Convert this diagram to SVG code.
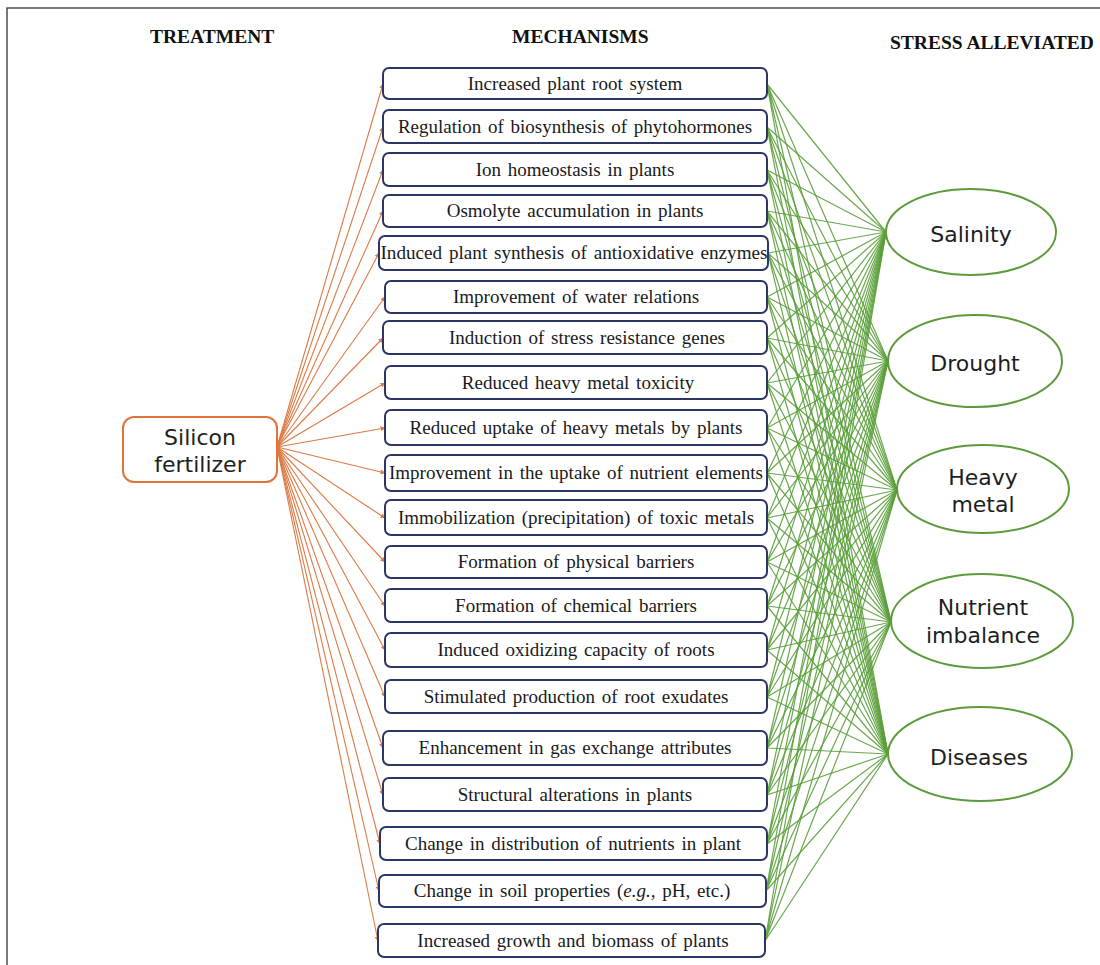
<svg xmlns="http://www.w3.org/2000/svg" width="1100" height="965" viewBox="0 0 1100 965">
<style>
.hdr{font-family:"Liberation Serif","Times New Roman",serif;font-weight:bold;font-size:19.5px;fill:#111}
.mb{fill:#fff;stroke:#2b3566;stroke-width:2}
.mt{font-family:"Liberation Serif","Times New Roman",serif;font-size:19px;fill:#1a1a1a;text-anchor:middle;word-spacing:2px}
.st{font-family:"DejaVu Sans","Verdana",sans-serif;font-size:22px;fill:#1e1e1e;text-anchor:middle}
.el{fill:#fff;stroke:#5c9a3c;stroke-width:2}
.g{fill:none;stroke:#5a9e3a;stroke-width:1.2;opacity:0.9}
.o{fill:none;stroke:#dd7a45;stroke-width:1.1;marker-end:url(#ah)}
</style>
<defs>
<marker id="ah" viewBox="0 0 10 10" refX="9" refY="5" markerWidth="5" markerHeight="5" markerUnits="userSpaceOnUse" orient="auto">
<path d="M0,0 L10,5 L0,10 z" fill="#dd7a45"/>
</marker>
</defs>
<rect x="0" y="0" width="1100" height="965" fill="#fff"/>
<rect x="7" y="8" width="1110" height="1000" fill="none" stroke="#333" stroke-width="1.3"/>
<text class="hdr" x="150" y="43">TREATMENT</text>
<text class="hdr" x="512" y="43">MECHANISMS</text>
<text class="hdr" x="890" y="49">STRESS ALLEVIATED</text>

<g id="connectors">
<g id="green">
<path class="g" d="M767 84L886 232M767 84L888 361M767 84L897 490M767 84L891 622M767 84L888 754"/>
<path class="g" d="M767 127L886 232M767 127L888 361M767 127L897 490M767 127L891 622M767 127L888 754"/>
<path class="g" d="M767 170L886 232M767 170L888 361M767 170L897 490M767 170L891 622M767 170L888 754"/>
<path class="g" d="M767 211L886 232M767 211L888 361M767 211L897 490M767 211L891 622M767 211L888 754"/>
<path class="g" d="M768 253L886 232M768 253L888 361M768 253L897 490M768 253L891 622M768 253L888 754"/>
<path class="g" d="M767 297L886 232M767 297L888 361M767 297L897 490M767 297L891 622M767 297L888 754"/>
<path class="g" d="M767 338L886 232M767 338L888 361M767 338L897 490M767 338L891 622M767 338L888 754"/>
<path class="g" d="M767 383L886 232M767 383L888 361M767 383L897 490M767 383L891 622M767 383L888 754"/>
<path class="g" d="M767 428L886 232M767 428L888 361M767 428L897 490M767 428L891 622M767 428L888 754"/>
<path class="g" d="M767 473L886 232M767 473L888 361M767 473L897 490M767 473L891 622M767 473L888 754"/>
<path class="g" d="M767 518L886 232M767 518L888 361M767 518L897 490M767 518L891 622M767 518L888 754"/>
<path class="g" d="M767 562L886 232M767 562L888 361M767 562L897 490M767 562L891 622M767 562L888 754"/>
<path class="g" d="M767 606L886 232M767 606L888 361M767 606L897 490M767 606L891 622M767 606L888 754"/>
<path class="g" d="M767 650L886 232M767 650L888 361M767 650L897 490M767 650L891 622M767 650L888 754"/>
<path class="g" d="M767 697L886 232M767 697L888 361M767 697L897 490M767 697L891 622M767 697L888 754"/>
<path class="g" d="M767 748L886 232M767 748L888 361M767 748L897 490M767 748L891 622M767 748L888 754"/>
<path class="g" d="M767 795L886 232M767 795L888 361M767 795L897 490M767 795L891 622M767 795L888 754"/>
<path class="g" d="M767 844L886 232M767 844L888 361M767 844L897 490M767 844L891 622M767 844L888 754"/>
<path class="g" d="M766 891L886 232M766 891L888 361M766 891L897 490M766 891L891 622M766 891L888 754"/>
<path class="g" d="M765 941L886 232M765 941L888 361M765 941L897 490M765 941L891 622M765 941L888 754"/>
</g>
<g id="orange">
<line class="o" x1="277" y1="447" x2="383" y2="84"/>
<line class="o" x1="277" y1="447" x2="383" y2="127"/>
<line class="o" x1="277" y1="447" x2="383" y2="170"/>
<line class="o" x1="277" y1="447" x2="383" y2="211"/>
<line class="o" x1="277" y1="447" x2="379" y2="253"/>
<line class="o" x1="277" y1="447" x2="385" y2="297"/>
<line class="o" x1="277" y1="447" x2="383" y2="338"/>
<line class="o" x1="277" y1="447" x2="385" y2="383"/>
<line class="o" x1="277" y1="447" x2="385" y2="428"/>
<line class="o" x1="277" y1="447" x2="385" y2="473"/>
<line class="o" x1="277" y1="447" x2="385" y2="518"/>
<line class="o" x1="277" y1="447" x2="385" y2="562"/>
<line class="o" x1="277" y1="447" x2="385" y2="606"/>
<line class="o" x1="277" y1="447" x2="385" y2="650"/>
<line class="o" x1="277" y1="447" x2="385" y2="697"/>
<line class="o" x1="277" y1="447" x2="383" y2="748"/>
<line class="o" x1="277" y1="447" x2="383" y2="795"/>
<line class="o" x1="277" y1="447" x2="380" y2="844"/>
<line class="o" x1="277" y1="447" x2="379" y2="891"/>
<line class="o" x1="277" y1="447" x2="378" y2="941"/>
</g>
</g>

<g id="silicon">
<rect x="123" y="417" width="154" height="65" rx="11" fill="#fff" stroke="#e0733a" stroke-width="2"/>
<text class="st" x="200" y="445">Silicon</text>
<text class="st" x="200" y="472">fertilizer</text>
</g>

<g id="m1"><rect class="mb" x="383" y="68" width="384" height="31" rx="6"/><text class="mt" x="575" y="90">Increased plant root system</text></g>
<g id="m2"><rect class="mb" x="383" y="110" width="384" height="33" rx="6"/><text class="mt" x="575" y="133">Regulation of biosynthesis of phytohormones</text></g>
<g id="m3"><rect class="mb" x="383" y="153" width="384" height="33" rx="6"/><text class="mt" x="575" y="176">Ion homeostasis in plants</text></g>
<g id="m4"><rect class="mb" x="383" y="195" width="384" height="32" rx="6"/><text class="mt" x="575" y="217">Osmolyte accumulation in plants</text></g>
<g id="m5"><rect class="mb" x="379" y="236" width="389" height="34" rx="6"/><text class="mt" x="574" y="259" textLength="387" lengthAdjust="spacingAndGlyphs">Induced plant synthesis of antioxidative enzymes</text></g>
<g id="m6"><rect class="mb" x="385" y="281" width="382" height="32" rx="6"/><text class="mt" x="576" y="303">Improvement of water relations</text></g>
<g id="m7"><rect class="mb" x="383" y="321" width="384" height="33" rx="6"/><text class="mt" x="587" y="344">Induction of stress resistance genes</text></g>
<g id="m8"><rect class="mb" x="385" y="366" width="382" height="33" rx="6"/><text class="mt" x="578" y="389">Reduced heavy metal toxicity</text></g>
<g id="m9"><rect class="mb" x="385" y="410" width="382" height="35" rx="6"/><text class="mt" x="576" y="434">Reduced uptake of heavy metals by plants</text></g>
<g id="m10"><rect class="mb" x="385" y="455" width="382" height="36" rx="6"/><text class="mt" x="576" y="479">Improvement in the uptake of nutrient elements</text></g>
<g id="m11"><rect class="mb" x="385" y="500" width="382" height="35" rx="6"/><text class="mt" x="576" y="524">Immobilization (precipitation) of toxic metals</text></g>
<g id="m12"><rect class="mb" x="385" y="546" width="382" height="32" rx="6"/><text class="mt" x="576" y="568">Formation of physical barriers</text></g>
<g id="m13"><rect class="mb" x="385" y="589" width="382" height="33" rx="6"/><text class="mt" x="576" y="612">Formation of chemical barriers</text></g>
<g id="m14"><rect class="mb" x="385" y="633" width="382" height="34" rx="6"/><text class="mt" x="576" y="656">Induced oxidizing capacity of roots</text></g>
<g id="m15"><rect class="mb" x="385" y="680" width="382" height="33" rx="6"/><text class="mt" x="576" y="703">Stimulated production of root exudates</text></g>
<g id="m16"><rect class="mb" x="383" y="731" width="384" height="34" rx="6"/><text class="mt" x="575" y="754">Enhancement in gas exchange attributes</text></g>
<g id="m17"><rect class="mb" x="383" y="778" width="384" height="33" rx="6"/><text class="mt" x="575" y="801">Structural alterations in plants</text></g>
<g id="m18"><rect class="mb" x="380" y="827" width="387" height="33" rx="6"/><text class="mt" x="573" y="850">Change in distribution of nutrients in plant</text></g>
<g id="m19"><rect class="mb" x="379" y="875" width="387" height="32" rx="6"/><text class="mt" x="572" y="897">Change in soil properties (<tspan font-style="italic">e.g.,</tspan> pH,  etc.)</text></g>
<g id="m20"><rect class="mb" x="378" y="924" width="387" height="33" rx="6"/><text class="mt" x="573" y="947">Increased growth and biomass of plants</text></g>

<g id="salinity"><ellipse class="el" cx="971" cy="232" rx="85" ry="43"/><text class="st" x="971" y="242">Salinity</text></g>
<g id="drought"><ellipse class="el" cx="975" cy="361" rx="87" ry="46"/><text class="st" x="975" y="371">Drought</text></g>
<g id="heavymetal"><ellipse class="el" cx="983" cy="489" rx="86" ry="44"/><text class="st" x="983" y="485">Heavy</text><text class="st" x="983" y="512">metal</text></g>
<g id="nutrient"><ellipse class="el" cx="982" cy="621" rx="91" ry="47"/><text class="st" x="983" y="615">Nutrient</text><text class="st" x="983" y="643">imbalance</text></g>
<g id="diseases"><ellipse class="el" cx="980" cy="754" rx="92" ry="47"/><text class="st" x="979" y="765">Diseases</text></g>
</svg>
